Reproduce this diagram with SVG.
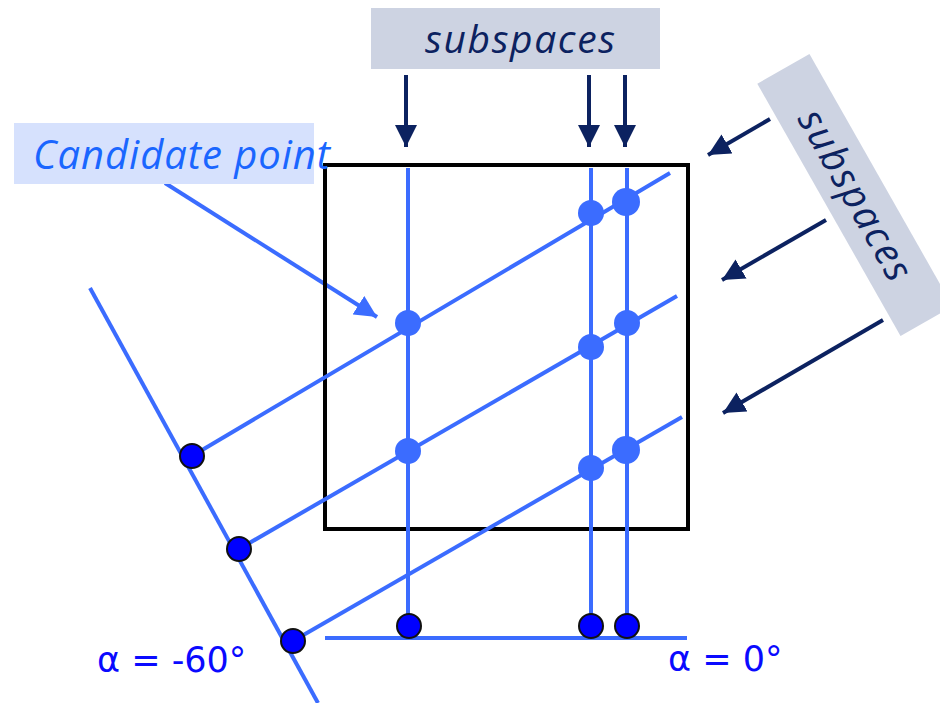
<svg xmlns="http://www.w3.org/2000/svg" width="940" height="703" viewBox="0 0 940 703">
<defs>
<style>
.bl{stroke:#3b6cff;stroke-width:4;fill:none}
.nv{stroke:#0c2260;stroke-width:4;fill:none}
.dot{fill:#3b6cff}
.pt{fill:#0000ff;stroke:#111;stroke-width:2}
.lab{font-family:"Open Sans","Noto Sans",sans-serif;font-style:italic;font-size:39px;fill:#0c2260}
.alpha{font-family:"DejaVu Sans",sans-serif;font-size:35px;fill:#0a0aff}
</style>
<marker id="ah" viewBox="0 0 10 10" refX="10" refY="5" markerWidth="5.5" markerHeight="5.5" orient="auto" markerUnits="strokeWidth"><path d="M0,0 L10,5 L0,10 z" fill="#0c2260"/></marker>
<marker id="ahb" viewBox="0 0 10 10" refX="10" refY="5" markerWidth="5.5" markerHeight="5.5" orient="auto" markerUnits="strokeWidth"><path d="M0,0 L10,5 L0,10 z" fill="#3b6cff"/></marker>
</defs>
<rect width="940" height="703" fill="#fff"/>
<g id="connectors">
<line class="nv" x1="406" y1="75" x2="406" y2="147" marker-end="url(#ah)"/>
<line class="nv" x1="589" y1="75" x2="589" y2="147" marker-end="url(#ah)"/>
<line class="nv" x1="625" y1="75" x2="625" y2="147" marker-end="url(#ah)"/>
<line class="nv" x1="770" y1="119" x2="708" y2="155" marker-end="url(#ah)"/>
<line class="nv" x1="826" y1="220" x2="722" y2="280" marker-end="url(#ah)"/>
<line class="nv" x1="883" y1="320" x2="723" y2="413" marker-end="url(#ah)"/>
<line class="bl" x1="165" y1="183" x2="377" y2="317" marker-end="url(#ahb)"/>
</g>
<g id="frame"><rect x="325" y="165" width="363" height="364" fill="none" stroke="#000" stroke-width="4"/></g>
<g id="lines">
<line class="bl" x1="90" y1="288" x2="318" y2="703"/>
<line class="bl" x1="325" y1="638" x2="687" y2="638"/>
<line class="bl" x1="408" y1="168" x2="408" y2="626"/>
<line class="bl" x1="591" y1="168" x2="591" y2="626"/>
<line class="bl" x1="627" y1="168" x2="627" y2="626"/>
<line class="bl" x1="192" y1="456" x2="670" y2="173"/>
<line class="bl" x1="239" y1="549" x2="677" y2="296"/>
<line class="bl" x1="293" y1="641" x2="682" y2="417"/>
</g>
<g id="intersections">
<circle class="dot" cx="408" cy="323" r="13"/>
<circle class="dot" cx="408" cy="451" r="13"/>
<circle class="dot" cx="591" cy="213" r="13"/>
<circle class="dot" cx="626" cy="202" r="14"/>
<circle class="dot" cx="591" cy="347" r="13"/>
<circle class="dot" cx="627" cy="323" r="13"/>
<circle class="dot" cx="591" cy="468" r="13"/>
<circle class="dot" cx="626" cy="450" r="14"/>
</g>
<g id="projections">
<circle class="pt" cx="192" cy="456" r="12"/>
<circle class="pt" cx="239" cy="549" r="12"/>
<circle class="pt" cx="293" cy="641" r="12"/>
<circle class="pt" cx="409" cy="626" r="12"/>
<circle class="pt" cx="591" cy="626" r="12"/>
<circle class="pt" cx="627" cy="626" r="12"/>
</g>
<g id="top-subspaces">
<rect x="371" y="8" width="289" height="61" fill="#cdd3e2"/>
<text class="lab" x="425" y="53" textLength="190" lengthAdjust="spacing">subspaces</text>
</g>
<g id="right-subspaces" transform="translate(855,195) rotate(60.4)">
<rect x="-145" y="-30" width="290" height="60" fill="#cdd3e2"/>
<text class="lab" x="-95" y="13" textLength="190" lengthAdjust="spacing">subspaces</text>
</g>
<g id="candidate">
<rect x="14" y="123" width="300" height="61" fill="#d6e1fd"/>
<text x="33" y="169" font-family="Open Sans, Noto Sans, sans-serif" font-style="italic" font-size="40" fill="#1a66ff" textLength="297" lengthAdjust="spacing">Candidate point</text>
</g>
<g id="labels">
<text class="alpha" x="97" y="672">α = -60°</text>
<text class="alpha" x="668" y="671">α = 0°</text>
</g>
</svg>
